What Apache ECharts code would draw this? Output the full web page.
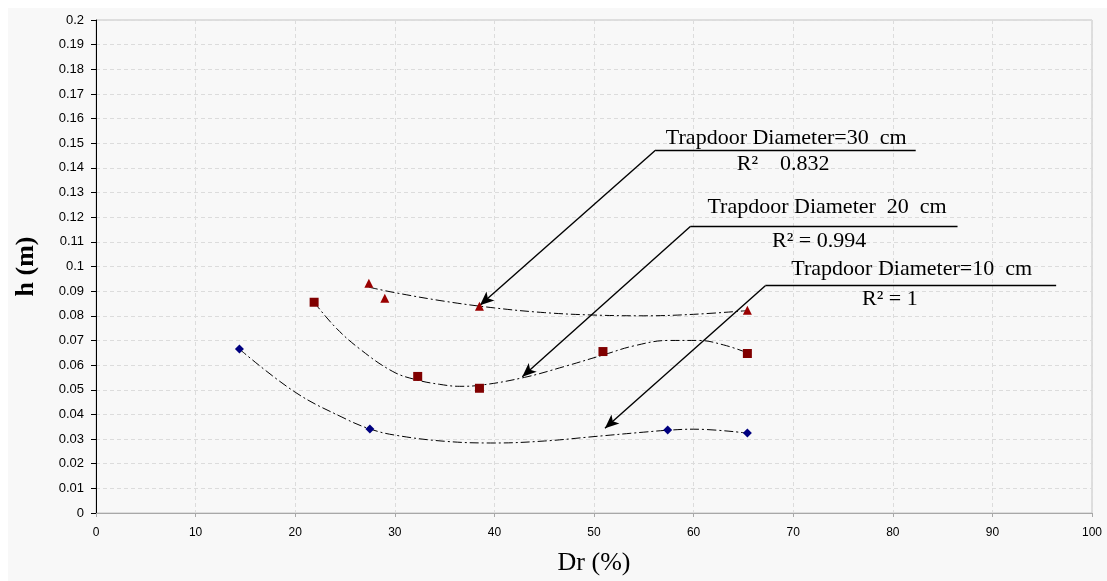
<!DOCTYPE html>
<html>
<head>
<meta charset="utf-8">
<script src="https://cdn.jsdelivr.net/npm/echarts@6/dist/echarts.min.js"></script>
<style>
html,body{margin:0;padding:0;background:#ffffff;}
#c{width:1107px;height:581px;}
</style>
</head>
<body>
<div id="c"></div>
<script>
// ---- data ----
const d10X = [14.4, 27.5, 57.4, 65.4];
const d10Y = [0.0665, 0.0341, 0.0337, 0.0325];
const d20X = [21.9, 32.3, 38.5, 50.9, 65.4];
const d20Y = [0.0855, 0.0554, 0.0506, 0.0655, 0.0647];
const d30X = [27.4, 29.0, 38.5, 65.4];
const d30Y = [0.0932, 0.0871, 0.0839, 0.0823];

// trendlines
const t10X = [14.4, 20, 25, 27.5, 30, 35, 40, 45, 50, 55, 57.5, 60, 65.4];
const t10Y = [0.0665, 0.0490, 0.0383, 0.0341, 0.0316, 0.0291, 0.0284, 0.0292, 0.0310, 0.0328, 0.0336, 0.0340, 0.0324];
const t20X = [21.9, 24, 26.5, 29.8, 32.2, 34.5, 36.5, 38.5, 43, 47, 51, 54, 57.5, 60.5, 63, 65.4];
const t20Y = [0.0855, 0.0755, 0.0665, 0.0574, 0.0540, 0.0522, 0.0514, 0.0518, 0.0550, 0.0594, 0.0642, 0.0678, 0.0700, 0.0700, 0.0682, 0.0650];
const t30X = [27.4, 30, 35, 40, 45, 50, 55, 60, 65.4];
const t30Y = [0.0916, 0.0894, 0.0859, 0.0832, 0.0813, 0.0803, 0.0800, 0.0806, 0.0821];

const xTicks = [0, 10, 20, 30, 40, 50, 60, 70, 80, 90, 100];
const yTickStep = 0.01;

const labelTitles = ['Trapdoor Diameter=30  cm', 'Trapdoor Diameter  20  cm', 'Trapdoor Diameter=10  cm'];
const labelR2 = ['R\u00B2    0.832', 'R\u00B2 = 0.994', 'R\u00B2 = 1'];

function pairs(xs, ys){ return xs.map((x,i)=>[x, ys[i]]); }

const serif = "'Liberation Serif','Times New Roman',serif";
const trendStyle = {color:'#000', width:1, type:[9,3,2,3]};

// annotation layout (data coordinates): underline start/end, arrow tip, text centres
const ann = [
  {u:[[56.2,0.1473],[82.3,0.1473]], tip:[38.55,0.0843], t:[69.3,0.1520], r:[69.0,0.1416]},
  {u:[[59.7,0.1163],[86.5,0.1163]], tip:[42.8,0.0553], t:[73.4,0.1240], r:[72.6,0.1103]},
  {u:[[67.2,0.0922],[96.4,0.0922]], tip:[51.1,0.0344], t:[81.9,0.0990], r:[79.7,0.0866]}
];

const markLines = [];
ann.forEach(a=>{
  markLines.push([{coord:a.u[0], symbol:'none'},{coord:a.u[1], symbol:'none'}]);
  markLines.push([{coord:a.u[0], symbol:'none'},{coord:a.tip, symbol:'arrow'}]);
});

const chart = echarts.init(document.getElementById('c'), null, {renderer:'canvas'});
const option = {
  backgroundColor:'transparent',
  animation:false,
  grid:{left:96, right:15, top:20, bottom:64, show:true, backgroundColor:'#f8f8f8', borderColor:'#c4c4c4', borderWidth:1},
  xAxis:{
    type:'value', min:xTicks[0], max:xTicks[xTicks.length-1], interval:10,
    name:'Dr (%)', nameLocation:'middle', nameGap:37,
    nameTextStyle:{fontFamily:serif, fontSize:26, color:'#000'},
    axisLine:{show:true, lineStyle:{color:'#a8a8a8', width:1}},
    axisTick:{show:true, length:4, lineStyle:{color:'#a8a8a8'}},
    axisLabel:{color:'#000', fontFamily:"'Liberation Sans',Arial,sans-serif", fontSize:12, margin:14},
    splitLine:{show:true, lineStyle:{color:'#dcdcdc', type:[4,3], width:1}}
  },
  yAxis:{
    type:'value', min:0, max:0.2, interval:yTickStep,
    name:'h (m)', nameLocation:'middle', nameGap:57, nameRotate:90,
    nameTextStyle:{fontFamily:serif, fontSize:26, fontWeight:'bold', color:'#000'},
    axisLine:{show:true, lineStyle:{color:'#000', width:1}},
    axisTick:{show:true, length:5, lineStyle:{color:'#000'}},
    axisLabel:{color:'#000', fontFamily:"'Liberation Sans',Arial,sans-serif", fontSize:13, margin:12,
      formatter:v=>String(Number(v.toFixed(2)))},
    splitLine:{show:true, lineStyle:{color:'#dcdcdc', type:[4,3], width:1}}
  },
  series:[
    {type:'line', data:pairs(t10X,t10Y), smooth:0.4, showSymbol:false, lineStyle:trendStyle, z:2, silent:true},
    {type:'line', data:pairs(t20X,t20Y), smooth:0.4, showSymbol:false, lineStyle:trendStyle, z:2, silent:true},
    {type:'line', data:pairs(t30X,t30Y), smooth:0.4, showSymbol:false, lineStyle:trendStyle, z:2, silent:true,
      markLine:{silent:true, symbol:['none','arrow'], symbolSize:[9,14], label:{show:false},
        lineStyle:{color:'#000', width:1.4, type:'solid'}, data:markLines}},
    {type:'scatter', data:pairs(d10X,d10Y), symbol:'diamond', symbolSize:9, itemStyle:{color:'#000080', opacity:1}, z:5},
    {type:'scatter', data:pairs(d20X,d20Y), symbol:'rect', symbolSize:9, itemStyle:{color:'#800000', opacity:1}, z:5},
    {type:'scatter', data:pairs(d30X,d30Y), symbol:'triangle', symbolSize:9, itemStyle:{color:'#9a0000', opacity:1}, z:5}
  ]
};
chart.setOption(option);

function drawTexts(){
  const els = [{type:'rect', shape:{x:8, y:8, width:1099, height:573}, style:{fill:'#f8f8f8'}, z:-10, silent:true}];
  ann.forEach((a,i)=>{
    const pt = chart.convertToPixel({gridIndex:0}, a.t);
    const pr = chart.convertToPixel({gridIndex:0}, a.r);
    els.push({type:'text', x:pt[0], y:pt[1], z:20, silent:true,
      style:{text:labelTitles[i], font:'22px '+serif, fill:'#000', align:'center', verticalAlign:'middle'}});
    els.push({type:'text', x:pr[0], y:pr[1], z:20, silent:true,
      style:{text:labelR2[i], font:'22px '+serif, fill:'#000', align:'center', verticalAlign:'middle'}});
  });
  chart.setOption({graphic:els});
}
drawTexts();
</script>
</body>
</html>
